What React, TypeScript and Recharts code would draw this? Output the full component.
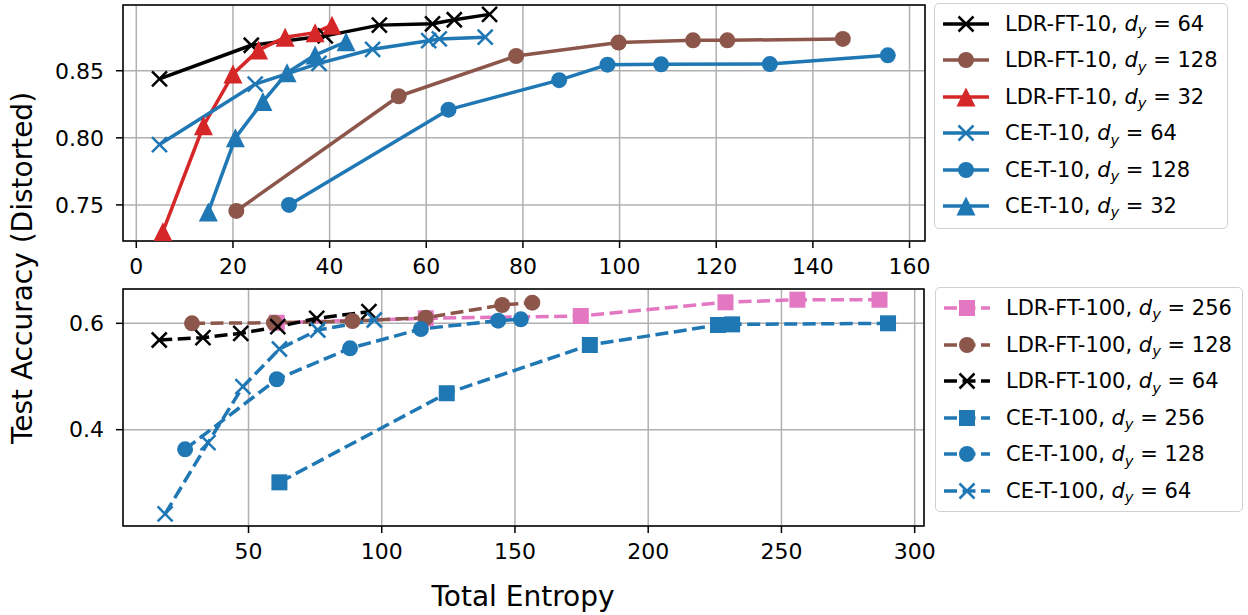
import React from 'react';
import { LineChart, Line, XAxis, YAxis, CartesianGrid, ReferenceArea } from 'recharts';

const FONT = '"DejaVu Sans", "Noto Sans", sans-serif';
const BLUE = '#1f77b4';
const BROWN = '#8c564b';
const RED = '#d62728';
const PINK = '#e377c2';
const BLACK = '#000000';

// ---------- top panel (10-class) ----------
const ldr10_64_x = [4.8, 23.8, 39.1, 50.3, 61.3, 65.8, 73.1];
const ldr10_64_y = [0.844, 0.869, 0.876, 0.884, 0.885, 0.888, 0.892];
const ldr10_128_x = [20.7, 54.3, 78.6, 99.8, 115.2, 122.3, 146.2];
const ldr10_128_y = [0.7455, 0.831, 0.861, 0.871, 0.8727, 0.8727, 0.8737];
const ldr10_32_x = [5.5, 13.9, 20.0, 25.3, 30.8, 37.0, 40.5];
const ldr10_32_y = [0.730, 0.809, 0.8475, 0.8654, 0.875, 0.8784, 0.884];
const ce10_64_x = [4.8, 24.6, 37.8, 48.9, 60.5, 62.7, 72.2];
const ce10_64_y = [0.795, 0.840, 0.8555, 0.866, 0.8724, 0.8737, 0.875];
const ce10_128_x = [31.6, 64.6, 87.5, 97.5, 108.6, 131.1, 155.5];
const ce10_128_y = [0.750, 0.821, 0.843, 0.8545, 0.8548, 0.855, 0.8615];
const ce10_32_x = [14.9, 20.5, 26.2, 31.2, 37.0, 43.4];
const ce10_32_y = [0.7448, 0.800, 0.827, 0.8485, 0.8617, 0.8716];

const topXTicks = [0, 20, 40, 60, 80, 100, 120, 140, 160];
const topYTicks = [0.75, 0.8, 0.85];
const topXDomain = [-2.75, 163.2];
const topYDomain = [0.7231, 0.899];

// ---------- bottom panel (100-class) ----------
const ldr100_256_x = [60.6, 116.5, 174.7, 229.0, 256.0, 286.8];
const ldr100_256_y = [0.601, 0.6094, 0.6137, 0.6395, 0.6444, 0.6444];
const ldr100_128_x = [28.8, 59.6, 89.0, 116.5, 145.2, 156.5];
const ldr100_128_y = [0.600, 0.601, 0.6043, 0.6105, 0.6344, 0.6388];
const ldr100_64_x = [16.5, 32.9, 47.1, 61.0, 75.6, 95.2];
const ldr100_64_y = [0.5686, 0.5729, 0.5812, 0.5936, 0.6094, 0.6218];
const ce100_256_x = [61.6, 124.4, 178.1, 226.2, 231.5, 290.0];
const ce100_256_y = [0.301, 0.4685, 0.5592, 0.5968, 0.598, 0.600];
const ce100_128_x = [26.2, 60.6, 88.1, 114.7, 143.7, 152.2];
const ce100_128_y = [0.363, 0.4948, 0.553, 0.5893, 0.605, 0.6075];
const ce100_64_x = [18.7, 34.8, 47.9, 61.6, 76.0, 97.2];
const ce100_64_y = [0.2415, 0.3756, 0.4809, 0.5517, 0.5874, 0.6062];

const botXTicks = [50, 100, 150, 200, 250, 300];
const botYTicks = [0.4, 0.6];
const botXDomain = [2.9, 303.5];
const botYDomain = [0.2189, 0.6645];

type Shape = 'x' | 'circle' | 'triangle' | 'square';
interface Series {
  id: string;
  prefix: string;
  dy: string;
  color: string;
  shape: Shape;
  dashed: boolean;
  data: { x: number; y: number }[];
}

const zip = (xs: number[], ys: number[]) => xs.map((x, i) => ({ x, y: ys[i] }));

const topSeries: Series[] = [
  { id: 't1', prefix: 'LDR-FT-10', dy: '64', color: BLACK, shape: 'x', dashed: false, data: zip(ldr10_64_x, ldr10_64_y) },
  { id: 't2', prefix: 'LDR-FT-10', dy: '128', color: BROWN, shape: 'circle', dashed: false, data: zip(ldr10_128_x, ldr10_128_y) },
  { id: 't3', prefix: 'LDR-FT-10', dy: '32', color: RED, shape: 'triangle', dashed: false, data: zip(ldr10_32_x, ldr10_32_y) },
  { id: 't4', prefix: 'CE-T-10', dy: '64', color: BLUE, shape: 'x', dashed: false, data: zip(ce10_64_x, ce10_64_y) },
  { id: 't5', prefix: 'CE-T-10', dy: '128', color: BLUE, shape: 'circle', dashed: false, data: zip(ce10_128_x, ce10_128_y) },
  { id: 't6', prefix: 'CE-T-10', dy: '32', color: BLUE, shape: 'triangle', dashed: false, data: zip(ce10_32_x, ce10_32_y) },
];

const botSeries: Series[] = [
  { id: 'b1', prefix: 'LDR-FT-100', dy: '256', color: PINK, shape: 'square', dashed: true, data: zip(ldr100_256_x, ldr100_256_y) },
  { id: 'b2', prefix: 'LDR-FT-100', dy: '128', color: BROWN, shape: 'circle', dashed: true, data: zip(ldr100_128_x, ldr100_128_y) },
  { id: 'b3', prefix: 'LDR-FT-100', dy: '64', color: BLACK, shape: 'x', dashed: true, data: zip(ldr100_64_x, ldr100_64_y) },
  { id: 'b4', prefix: 'CE-T-100', dy: '256', color: BLUE, shape: 'square', dashed: true, data: zip(ce100_256_x, ce100_256_y) },
  { id: 'b5', prefix: 'CE-T-100', dy: '128', color: BLUE, shape: 'circle', dashed: true, data: zip(ce100_128_x, ce100_128_y) },
  { id: 'b6', prefix: 'CE-T-100', dy: '64', color: BLUE, shape: 'x', dashed: true, data: zip(ce100_64_x, ce100_64_y) },
];

const DASH = '13 5.5';
const LW = 3.5;

function Marker({ cx, cy, shape, color }: { cx: number; cy: number; shape: Shape; color: string }) {
  if (cx == null || cy == null || isNaN(cx) || isNaN(cy)) return <g />;
  if (shape === 'x') {
    const h = 7.5;
    return (
      <g>
        <line x1={cx - h} y1={cy - h} x2={cx + h} y2={cy + h} stroke={color} strokeWidth={2.5} />
        <line x1={cx - h} y1={cy + h} x2={cx + h} y2={cy - h} stroke={color} strokeWidth={2.5} />
      </g>
    );
  }
  if (shape === 'circle') return <circle cx={cx} cy={cy} r={8} fill={color} />;
  if (shape === 'triangle') {
    const s = 9.5;
    return <polygon points={`${cx},${cy - s} ${cx - s},${cy + s} ${cx + s},${cy + s}`} fill={color} />;
  }
  return <rect x={cx - 8} y={cy - 8} width={16} height={16} fill={color} />;
}

const tickStyle = { fontSize: 22, fill: '#000', fontFamily: FONT };

function renderLine(s: Series) {
  return (
    <Line
      key={s.id}
      data={s.data}
      dataKey="y"
      type="linear"
      stroke={s.color}
      strokeWidth={LW}
      strokeDasharray={s.dashed ? DASH : undefined}
      strokeLinejoin="round"
      isAnimationActive={false}
      activeDot={false}
      legendType="none"
      dot={(p: any) => <Marker key={`${s.id}-${p.index}`} cx={p.cx} cy={p.cy} shape={s.shape} color={s.color} />}
    />
  );
}

function LegendBox({ series, left, top, width, height, step, first }: { series: Series[]; left: number; top: number; width: number; height: number; step: number; first: number }) {
  return (
    <div
      style={{
        position: 'absolute', left, top, width, height, boxSizing: 'border-box',
        border: '1.5px solid #d0d0d0', borderRadius: 5, background: '#fff',
      }}
    >
      {series.map((s, i) => (
        <div key={s.id} style={{ position: 'absolute', left: 0, top: first + i * step - 18, height: 36, width: width - 4 }}>
          <svg width={60} height={36} style={{ position: 'absolute', left: 0, top: 0 }}>
            <line x1={8} y1={18} x2={54} y2={18} stroke={s.color} strokeWidth={LW} strokeDasharray={s.dashed ? DASH : undefined} />
            <Marker cx={31} cy={18} shape={s.shape} color={s.color} />
          </svg>
          <div style={{ position: 'absolute', left: 70, top: 0, height: 36, lineHeight: '36px', fontSize: 21, fontFamily: FONT, whiteSpace: 'nowrap', color: '#000' }}>
            {s.prefix}, <i>d</i>
            <span style={{ fontSize: '0.7em', fontStyle: 'italic', position: 'relative', top: '0.3em' }}>y</span>
            {' = '}{s.dy}
          </div>
        </div>
      ))}
    </div>
  );
}

export default function App() {
  return (
    <div style={{ position: 'absolute', left: 0, top: 0, width: 1248, height: 615, background: '#fff', fontFamily: FONT, overflow: 'hidden' }}>
      <div style={{ position: 'absolute', left: 0, top: 0 }}>
        <LineChart width={940} height={290} margin={{ top: 5, right: 15, bottom: 0, left: 0 }}>
          <CartesianGrid stroke="#b0b0b0" strokeWidth={1.5} />
          <XAxis dataKey="x" type="number" domain={topXDomain} ticks={topXTicks} allowDataOverflow height={49}
            tickSize={7} tickMargin={10} tick={tickStyle} axisLine={false} tickLine={{ stroke: '#000', strokeWidth: 1.5 }} interval={0} />
          <YAxis type="number" domain={topYDomain} ticks={topYTicks} allowDataOverflow width={123}
            tickSize={7} tickMargin={12} tick={tickStyle} axisLine={false} tickLine={{ stroke: '#000', strokeWidth: 1.5 }}
            tickFormatter={(v: number) => v.toFixed(2)} interval={0} />
          {topSeries.map(renderLine)}
          <ReferenceArea x1={topXDomain[0]} x2={topXDomain[1]} y1={topYDomain[0]} y2={topYDomain[1]} fill="none" fillOpacity={0} stroke="#000" strokeWidth={1.5} ifOverflow="visible" />
        </LineChart>
      </div>
      <div style={{ position: 'absolute', left: 0, top: 284 }}>
        <LineChart width={940} height={290} margin={{ top: 5, right: 16, bottom: 0, left: 0 }}>
          <CartesianGrid stroke="#b0b0b0" strokeWidth={1.5} />
          <XAxis dataKey="x" type="number" domain={botXDomain} ticks={botXTicks} allowDataOverflow height={48}
            tickSize={7} tickMargin={10} tick={tickStyle} axisLine={false} tickLine={{ stroke: '#000', strokeWidth: 1.5 }} interval={0} />
          <YAxis type="number" domain={botYDomain} ticks={botYTicks} allowDataOverflow width={123}
            tickSize={7} tickMargin={12} tick={tickStyle} axisLine={false} tickLine={{ stroke: '#000', strokeWidth: 1.5 }}
            tickFormatter={(v: number) => v.toFixed(1)} interval={0} />
          {botSeries.map(renderLine)}
          <ReferenceArea x1={botXDomain[0]} x2={botXDomain[1]} y1={botYDomain[0]} y2={botYDomain[1]} fill="none" fillOpacity={0} stroke="#000" strokeWidth={1.5} ifOverflow="visible" />
        </LineChart>
      </div>

      <LegendBox series={topSeries} left={934} top={3} width={294} height={226} step={36.4} first={20} />
      <LegendBox series={botSeries} left={935} top={287} width={308} height={225} step={36.6} first={20} />

      <div style={{ position: 'absolute', left: 22, top: 268, transform: 'translate(-50%, -50%) rotate(-90deg)', fontSize: 28, whiteSpace: 'nowrap', color: '#000' }}>
        Test Accuracy (Distorted)
      </div>
      <div style={{ position: 'absolute', left: 523, top: 596, transform: 'translate(-50%, -50%)', fontSize: 28, whiteSpace: 'nowrap', color: '#000' }}>
        Total Entropy
      </div>
    </div>
  );
}
